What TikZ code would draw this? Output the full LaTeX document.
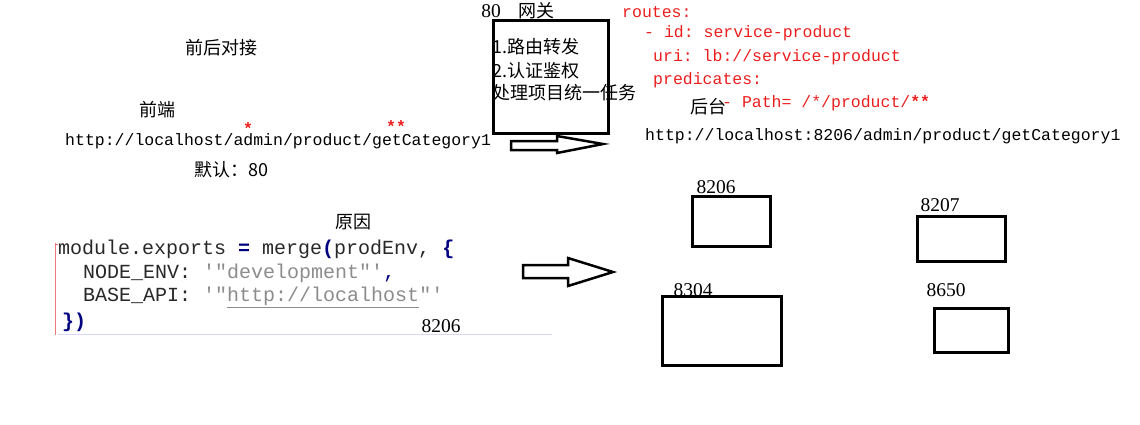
\documentclass[tikz,border=0pt]{standalone}
\usepackage{fontspec}
\newfontfamily\cjk{Noto Sans CJK SC}
\newfontfamily\numfont{Liberation Serif}
\setmonofont{Liberation Mono}
\definecolor{codered}{RGB}{235,30,30}
\definecolor{navy}{RGB}{0,0,128}
\definecolor{strgray}{RGB}{140,140,140}
\definecolor{codeblack}{RGB}{40,40,40}
\definecolor{marginred}{RGB}{240,120,120}
\definecolor{lavender}{RGB}{215,215,245}
\begin{document}
\begin{tikzpicture}[x=1pt,y=-1pt,
  cjklabel/.style={font=\cjk\fontsize{18}{20}\selectfont, inner sep=0pt},
  cjkline/.style={cjklabel, anchor=west},
  urltext/.style={font=\ttfamily\fontsize{16.5}{18}\selectfont, inner sep=0pt, anchor=west},
  redcode/.style={urltext, text=codered},
  redstar/.style={font=\ttfamily\bfseries\fontsize{16.5}{18}\selectfont, inner sep=0pt, text=codered},
  codeline/.style={font=\ttfamily\fontsize{20}{22}\selectfont, inner sep=0pt, anchor=west, text=codeblack},
  port/.style={font=\numfont\fontsize{19.5}{22}\selectfont, inner sep=0pt},
  server/.style={draw, line width=3pt, anchor=north west, inner sep=0pt},
  gwbox/.style={draw, line width=2.5pt, anchor=north west, inner sep=0pt},
  blockarrow/.style={draw, line width=2.5pt, line join=miter}]
\useasboundingbox (0,0) rectangle (1140,424);

% front end
\node[cjklabel] (title) at (221,48) {前后对接};
\node[cjklabel] (fe) at (157,110) {前端};
\node[urltext] (feurl) at (65,141) {http://localhost/admin/product/getCategory1};
\node[redstar] (star1) at (248,129) {*};
\node[redstar] (star2) at (396,127) {**};
\node[cjklabel] (default) at (231,170) {默认：80};

% reason / code block
\node[cjklabel] (reason) at (353,222) {原因};
\draw[marginred, line width=1pt] (55,243) -- (55,335);
\draw[marginred, line width=1pt] (55,244) -- (58,244);
\draw[lavender, line width=1pt] (58,334) -- (552,334);
\node[codeline] (l1) at (58,249) {module.exports {\color{navy}\bfseries =} merge{\color{navy}\bfseries (}prodEnv, {\color{navy}\bfseries \{}};
\node[codeline] (l2) at (83,273) {NODE\_ENV: {\color{strgray}'"development"'}{\color{navy},}};
\node[codeline] (l3) at (83,297) {BASE\_API: {\color{strgray}'"\underline{http://localhost}"'}};
\node[codeline] (l4) at (62,322) {{\color{navy}\bfseries \})}};
\node[port] (p0) at (441,326) {8206};

% gateway
\node[port] (gwport) at (491,11) {80};
\node[cjklabel] (gwname) at (536,11) {网关};
\node[gwbox, minimum width=115pt, minimum height=113pt] (gw) at (492,19) {};
\node[cjkline] (g1) at (492,47) {1.路由转发};
\node[cjkline] (g2) at (492,71) {2.认证鉴权};
\node[cjkline] (g3) at (492,93) {处理项目统一任务};

% arrows
\draw[blockarrow] (511,141) -- (557,141) -- (557,136) -- (603,144) -- (557,153) -- (557,150) -- (511,150) -- cycle;
\draw[blockarrow] (523,265) -- (568,265) -- (568,258) -- (613,272) -- (568,286) -- (568,278) -- (523,278) -- cycle;

% route config
\node[redcode] (r1) at (622,12) {routes:};
\node[redcode] (r2) at (644,33) {- id: service-product};
\node[redcode] (r3) at (653,57) {uri: lb://service-product};
\node[redcode] (r4) at (653,80) {predicates:};
\node[redcode] (r5) at (722,103) {- Path= /*/product/{\bfseries **}};
\node[cjklabel] (be) at (708,107) {后台};
\node[urltext] (beurl) at (645,136) {http://localhost:8206/admin/product/getCategory1};

% servers
\node[port] (l8206) at (716,187) {8206};
\node[server, minimum width=78pt, minimum height=50pt] (s8206) at (691,195) {};
\node[port] (l8207) at (940,205) {8207};
\node[server, minimum width=88pt, minimum height=45pt] (s8207) at (916,215) {};
\node[port] (l8304) at (693,290) {8304};
\node[server, minimum width=119pt, minimum height=69pt] (s8304) at (661,295) {};
\node[port] (l8650) at (946,290) {8650};
\node[server, minimum width=74pt, minimum height=44pt] (s8650) at (933,307) {};
\end{tikzpicture}
\end{document}
